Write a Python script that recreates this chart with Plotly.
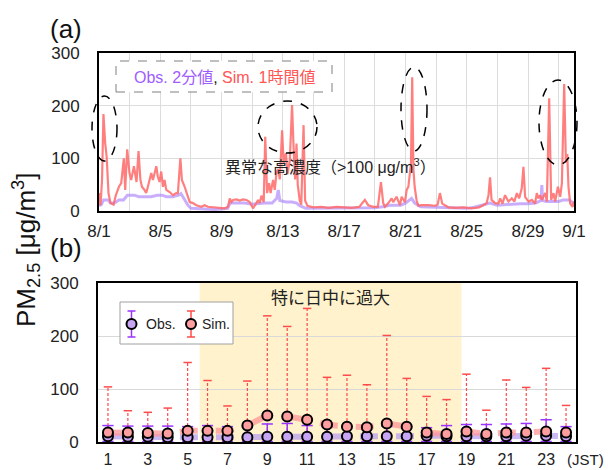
import plotly.graph_objects as go

# ---------------- Panel (a): time series (days since 8/1 00:00) ----------------
sim_day = [0.00, 0.10, 0.20, 0.29, 0.40, 0.50, 0.62, 0.75, 0.95, 1.10, 1.30, 1.45, 1.62, 1.71, 1.84,
           1.99, 2.10, 2.28, 2.45, 2.58, 2.70, 2.80, 2.97, 3.08, 3.19, 3.41, 3.52, 3.74, 3.84, 3.95,
           4.06, 4.17, 4.28, 4.39, 4.61, 4.83, 5.04, 5.15, 5.31, 5.41, 5.59, 5.76, 5.92, 6.13, 6.35,
           6.68, 6.89, 7.11, 7.44, 7.77, 8.20, 8.42, 8.53, 8.64, 8.75, 8.97, 9.18, 9.40, 9.62, 9.84,
           10.05, 10.27, 10.38, 10.49, 10.60, 10.75, 10.85, 10.97, 11.10, 11.20, 11.36, 11.47, 11.58,
           11.69, 11.80, 11.95, 12.05, 12.20, 12.30, 12.45, 12.60, 12.70, 12.80, 12.89, 12.97, 13.10,
           13.20, 13.35, 13.45, 13.60, 13.80, 14.00, 14.50, 15.00, 15.50, 16.00, 16.50, 17.00, 17.35,
           17.57, 17.90, 18.20, 18.40, 18.55, 18.66, 18.88, 19.10, 19.20, 19.42, 19.64, 19.75, 19.97,
           20.08, 20.19, 20.29, 20.36, 20.44, 20.52, 20.60, 20.73, 20.84, 21.06, 21.50, 21.93, 22.10,
           22.25, 22.40, 22.60, 22.80, 23.30, 23.80, 24.30, 24.80, 25.08, 25.30, 25.42, 25.52, 25.62,
           25.85, 26.07, 26.18, 26.33, 26.50, 26.72, 26.94, 27.11, 27.27, 27.42, 27.59, 27.70, 27.81,
           28.03, 28.25, 28.46, 28.57, 28.68, 28.79, 28.90, 29.12, 29.23, 29.38, 29.51, 29.66, 29.77,
           29.95, 30.10, 30.21, 30.36, 30.47, 30.56, 30.64, 30.75, 30.91, 31.00]
sim_val = [34, 11, 60, 184, 130, 103, 34, 15, 12, 30, 46, 53, 100, 40, 117,
           72, 59, 85, 55, 114, 60, 46, 40, 34, 46, 72, 59, 85, 65, 55,
           75, 46, 59, 40, 36, 30, 34, 34, 100, 59, 46, 30, 17, 15, 11,
           8, 11, 8, 7, 7, 5, 8, 24, 17, 21, 22, 20, 22, 21, 17,
           5, 15, 21, 15, 29, 17, 141, 34, 53, 34, 59, 40, 72,
           80, 60, 153, 90, 110, 70, 95, 201, 120, 60, 128, 50, 20,
           12, 163, 20, 10, 8, 7, 8, 6, 8, 7, 6, 8, 21,
           11, 8, 8, 55, 15, 8, 15, 24, 17, 27, 11, 27, 17,
           40, 46, 72, 90, 254, 80, 46, 20, 10, 11, 11, 10, 12,
           34, 14, 10, 7, 6, 7, 5, 7, 11, 15, 30, 64, 21,
           15, 14, 24, 14, 30, 18, 24, 18, 34, 24, 43, 84, 27,
           18, 21, 14, 34, 24, 30, 21, 34, 18, 214, 21, 34, 18,
           46, 27, 53, 241, 92, 108, 46, 14, 8, 18]

obs_day = [0.00, 0.15, 0.30, 0.60, 0.75, 1.00, 1.30, 1.60, 1.85, 2.30, 2.60, 3.00, 3.40, 3.80, 4.10,
           4.40, 4.80, 5.20, 5.35, 5.60, 5.80, 6.00, 6.50, 7.00, 7.50, 8.00, 8.40, 8.55, 9.00, 9.50,
           10.00, 10.30, 10.80, 11.30, 11.60, 11.70, 11.80, 12.20, 12.60, 12.90, 13.10, 13.50, 14.50,
           15.50, 16.50, 17.50, 18.00, 18.50, 19.00, 19.70, 20.00, 20.40, 20.60, 21.00, 22.00, 22.80,
           24.00, 24.50, 25.00, 25.50, 26.00, 26.50, 27.00, 27.50, 28.00, 28.50, 28.85, 28.90, 28.95,
           29.20, 29.60, 30.00, 30.30, 30.70, 31.00]
obs_val = [10, 12, 21, 21, 15, 15, 21, 21, 30, 30, 27, 27, 27, 30, 30,
           27, 27, 30, 33, 21, 11, 5, 4, 4, 3, 4, 5, 15, 15, 15,
           13, 14, 15, 15, 24, 40, 20, 17, 17, 15, 10, 5, 5,
           5, 5, 5, 6, 8, 11, 11, 15, 24, 15, 8, 7, 5,
           5, 7, 11, 15, 11, 12, 14, 14, 14, 15, 20, 49, 20,
           18, 18, 18, 21, 21, 14]

date_tick_days = [0, 2, 4, 6, 8, 10, 12, 14, 16, 18, 20, 22, 24, 26, 28, 30, 31]
date_tick_text = ['8/1', '', '8/5', '', '8/9', '', '8/13', '', '8/17', '', '8/21', '', '8/25', '', '8/29', '', '9/1']

# ---------------- Panel (b): diurnal statistics ----------------
hours = list(range(1, 25))
obs_mean = [11, 10, 10, 9, 9, 9, 9, 9, 10, 10, 10, 10, 11, 11, 11, 11, 12, 11, 11, 11, 11, 12, 12, 11]
obs_max = [31, 30, 30, 30, 29, 31, 29, 29, 34, 35, 31, 29, 30, 31, 30, 29, 27, 31, 33, 33, 34, 35, 42, 29]
obs_min = [1, 1, 1, 1, 1, 1, 1, 1, 1, 1, 1, 1, 1, 1, 1, 1, 1, 1, 1, 1, 1, 1, 1, 1]
sim_mean = [18, 18, 17, 16, 21, 21, 21, 31, 50, 48, 42, 33, 29, 28, 35, 29, 18, 15, 20, 15, 18, 18, 20, 18]
sim_max = [104, 59, 56, 64, 150, 116, 68, 115, 238, 218, 252, 122, 126, 108, 201, 120, 86, 80, 128, 60, 117, 103, 139, 69]
sim_min = [2, 2, 2, 2, 2, 2, 2, 2, 2, 2, 2, 2, 2, 2, 2, 2, 2, 2, 2, 2, 2, 2, 2, 2]
hour_tick_vals = [1, 3, 5, 7, 9, 11, 13, 15, 17, 19, 21, 23]
hour_tick_text = ['1', '3', '5', '7', '9', '11', '13', '15', '17', '19', '21', '23']
daytime_span = [5.6, 18.75]

FONT = "Liberation Sans, Arial, Noto Sans CJK JP, sans-serif"
JP = "Noto Sans CJK JP, Liberation Sans, sans-serif"

# layout geometry (pixels)
W, H = 608, 470
ML, MR, MT, MB = 98, 32, 53, 28
PW, PH = W - ML - MR, H - MT - MB


def px(x):
    return (x - ML) / PW


def py(y):
    return (H - MB - y) / PH


fig = go.Figure()

# Panel (a) traces
fig.add_trace(go.Scatter(x=obs_day, y=obs_val, mode='lines', xaxis='x', yaxis='y',
                         line=dict(color='rgba(165,120,250,0.6)', width=3), showlegend=False))
fig.add_trace(go.Scatter(x=sim_day, y=sim_val, mode='lines', xaxis='x', yaxis='y',
                         line=dict(color='rgba(255,105,105,0.85)', width=2.2), showlegend=False))

# Panel (b) mean lines
fig.add_trace(go.Scatter(x=hours, y=obs_mean, mode='lines', xaxis='x2', yaxis='y2',
                         line=dict(color='rgba(185,160,240,0.75)', width=6, dash='dash'), showlegend=False))
fig.add_trace(go.Scatter(x=hours, y=sim_mean, mode='lines', xaxis='x2', yaxis='y2',
                         line=dict(color='rgba(255,150,150,0.75)', width=6, dash='dash'), showlegend=False))

# Sim error bars (dashed red)
ex, ey = [], []
for h, lo, hi in zip(hours, sim_min, sim_max):
    ex += [h, h, None]
    ey += [lo, hi, None]
fig.add_trace(go.Scatter(x=ex, y=ey, mode='lines', xaxis='x2', yaxis='y2',
                         line=dict(color='#FF4A4A', width=1.2, dash='3px,2px'), showlegend=False))
fig.add_trace(go.Scatter(x=hours, y=sim_max, mode='markers', xaxis='x2', yaxis='y2',
                         marker=dict(symbol='line-ew', size=6, line=dict(color='#FF4A4A', width=1.5)),
                         showlegend=False))

# Obs error bars (solid purple)
ox, oy = [], []
for h, lo, hi in zip(hours, obs_min, obs_max):
    ox += [h, h, None]
    oy += [lo, hi, None]
fig.add_trace(go.Scatter(x=ox, y=oy, mode='lines', xaxis='x2', yaxis='y2',
                         line=dict(color='#9933FF', width=1.5), showlegend=False))
fig.add_trace(go.Scatter(x=hours + hours, y=obs_max + obs_min, mode='markers', xaxis='x2', yaxis='y2',
                         marker=dict(symbol='line-ew', size=8, line=dict(color='#9933FF', width=1.5)),
                         showlegend=False))

# Markers
fig.add_trace(go.Scatter(x=hours, y=obs_mean, mode='markers', xaxis='x2', yaxis='y2',
                         marker=dict(symbol='circle', size=10, color='#C9A6F5',
                                     line=dict(color='black', width=2)), showlegend=False))
fig.add_trace(go.Scatter(x=hours, y=sim_mean, mode='markers', xaxis='x2', yaxis='y2',
                         marker=dict(symbol='circle', size=10, color='#FF9E9E',
                                     line=dict(color='black', width=2)), showlegend=False))

axis_common = dict(showline=True, mirror=True, linecolor='black', linewidth=2, automargin=False,
                   zeroline=False)
tf17 = dict(family=FONT, size=17, color='#222')
tf16 = dict(family=FONT, size=16, color='#222')

fig.update_layout(
    width=W, height=H,
    margin=dict(l=ML, r=MR, t=MT, b=MB, autoexpand=False),
    paper_bgcolor='white', plot_bgcolor='white',
    showlegend=False,
    xaxis=dict(domain=[px(99), px(574)], anchor='y', range=[0, 31],
               tickmode='array', tickvals=date_tick_days, ticktext=date_tick_text,
               showgrid=True, gridcolor='#DDDDDD', gridwidth=1, tickfont=tf17,
               ticks='outside', ticklen=4, tickcolor='rgba(0,0,0,0)', **axis_common),
    yaxis=dict(domain=[py(211), py(53)], anchor='x', range=[0, 300],
               tickmode='array', tickvals=[0, 100, 200, 300],
               showgrid=True, gridcolor='#DDDDDD', gridwidth=1, tickfont=tf17,
               ticks='outside', ticklen=14, tickcolor='rgba(0,0,0,0)', **axis_common),
    xaxis2=dict(domain=[px(98), px(576)], anchor='y2', range=[0.5, 24.5],
                tickmode='array', tickvals=hour_tick_vals, ticktext=hour_tick_text,
                showgrid=False, tickfont=tf16,
                ticks='outside', ticklen=2, tickcolor='rgba(0,0,0,0)', **axis_common),
    yaxis2=dict(domain=[py(442), py(283)], anchor='x2', range=[0, 300],
                tickmode='array', tickvals=[0, 100, 200, 300],
                showgrid=True, gridcolor='#D9D9D9', gridwidth=1, tickfont=tf17,
                ticks='outside', ticklen=14, tickcolor='rgba(0,0,0,0)', **axis_common),
)

shapes = []
# daytime shading
shapes.append(dict(type='rect', xref='x2', yref='y2 domain', x0=daytime_span[0], x1=daytime_span[1],
                   y0=0, y1=1, fillcolor='#FFF2CC', line=dict(width=0), layer='below'))
# panel (a) legend box
shapes.append(dict(type='rect', xref='paper', yref='paper', x0=px(116), x1=px(332), y0=py(92), y1=py(61),
                   line=dict(color='#808080', width=1, dash='dash'), fillcolor='white', layer='above'))
# dashed ellipses
for (x0, x1, y0, y1) in [(92, 117, 96, 161), (258, 317, 101, 153), (401, 427, 67, 151), (539, 577, 80, 165)]:
    shapes.append(dict(type='circle', xref='paper', yref='paper', x0=px(x0), x1=px(x1),
                       y0=py(y1), y1=py(y0), line=dict(color='black', width=1.5, dash='dash')))
# panel (b) legend
shapes.append(dict(type='rect', xref='paper', yref='paper', x0=px(120), x1=px(233), y0=py(344), y1=py(302),
                   line=dict(color='#A0A0A0', width=1), fillcolor='white', layer='above'))
for cx, col in [(131.5, '#9933FF'), (191, '#FF4A4A')]:
    shapes.append(dict(type='line', xref='paper', yref='paper', x0=px(cx), x1=px(cx), y0=py(337), y1=py(311),
                       line=dict(color=col, width=1.5)))
    shapes.append(dict(type='line', xref='paper', yref='paper', x0=px(cx - 4), x1=px(cx + 4), y0=py(311), y1=py(311),
                       line=dict(color=col, width=1.5)))
    shapes.append(dict(type='line', xref='paper', yref='paper', x0=px(cx - 4), x1=px(cx + 4), y0=py(337), y1=py(337),
                       line=dict(color=col, width=1.5)))
for cx, fill in [(131.5, '#C9A6F5'), (191, '#FF9E9E')]:
    shapes.append(dict(type='circle', xref='paper', yref='paper', x0=px(cx - 5), x1=px(cx + 5),
                       y0=py(329), y1=py(319), fillcolor=fill, line=dict(color='black', width=2)))
fig.update_layout(shapes=shapes)


def note(x, y, text, size, family=FONT, color='#222', xanchor='center', angle=0):
    return dict(xref='paper', yref='paper', x=px(x), y=py(y), showarrow=False, text=text,
                xanchor=xanchor, yanchor='middle', textangle=angle,
                font=dict(family=family, size=size, color=color))


ann = [
    note(224, 77, '<span style="color:#A05CFF">Obs. 2分値</span><span style="color:#222">, </span>'
                  '<span style="color:#FF5555">Sim. 1時間値</span>', 16),
    note(330, 166, '異常な高濃度（>100 μg/m<sup>3</sup>）', 16),
    note(330, 296, '特に日中に過大', 17, family=JP),
    note(144, 324, 'Obs.', 14, xanchor='left'),
    note(200, 324, 'Sim.', 14, xanchor='left'),
    note(585, 459, '(JST)', 15),
    note(66, 29, '(a)', 26, color='#111'),
    note(66, 248, '(b)', 26, color='#111'),
    note(26, 250, 'PM<sub>2.5</sub> [μg/m<sup>3</sup>]', 26, color='#111', angle=-90),
]
fig.update_layout(annotations=ann)

fig.write_html("out.html")
